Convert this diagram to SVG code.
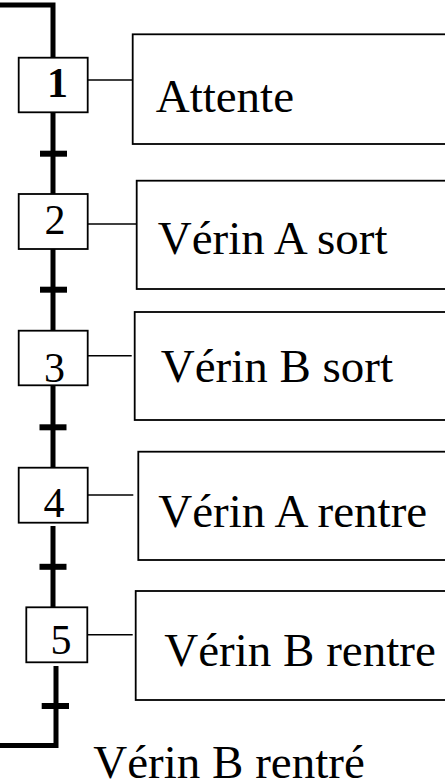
<svg xmlns="http://www.w3.org/2000/svg" width="445" height="782" viewBox="0 0 445 782">
<style>
.step{fill:#fff;stroke:#000;stroke-width:1.8}
.act{fill:#fff;stroke:#000;stroke-width:1.8}
.num{font-family:"Liberation Serif","Times New Roman",serif;font-size:42px;text-anchor:middle;fill:#000}
.lbl{font-family:"Liberation Serif","Times New Roman",serif;font-size:47px;fill:#000}
.flow{stroke:#000;stroke-width:5;fill:none}
.bar{stroke:#000;stroke-width:6}
.link{stroke:#000;stroke-width:1.5}
</style>
<rect width="445" height="782" fill="#fff"/>
<g id="connectors">
<polyline class="flow" points="0,5 53,5 53,58"/>
<line class="flow" x1="53" y1="112" x2="53" y2="194"/>
<line class="bar" x1="40" y1="153.7" x2="67" y2="153.7"/>
<line class="flow" x1="53" y1="249" x2="53" y2="331"/>
<line class="bar" x1="40" y1="289.7" x2="67" y2="289.7"/>
<line class="flow" x1="53" y1="385" x2="53" y2="468"/>
<line class="bar" x1="39.5" y1="427.3" x2="66.5" y2="427.3"/>
<line class="flow" x1="53" y1="526" x2="53" y2="607"/>
<line class="bar" x1="39.5" y1="566.8" x2="66.5" y2="566.8"/>
<polyline class="flow" points="56,666 56,745.5 0,745.5"/>
<line class="bar" x1="41.7" y1="706" x2="69" y2="706"/>
<line class="link" x1="87.7" y1="80" x2="135.7" y2="80"/>
<line class="link" x1="87.7" y1="224" x2="136.7" y2="224"/>
<line class="link" x1="81.7" y1="355.7" x2="131.7" y2="355.7"/>
<line class="link" x1="83.3" y1="495" x2="133.3" y2="495"/>
<line class="link" x1="83.3" y1="634.7" x2="132.7" y2="634.7"/>
</g>
<g id="step1"><rect class="step" x="18.7" y="57.7" width="69" height="54.6"/><text class="num" x="57.5" y="97.3" font-weight="bold">1</text></g>
<g id="step2"><rect class="step" x="18.7" y="194" width="69" height="55"/><text class="num" x="55" y="234">2</text></g>
<g id="step3"><rect class="step" x="18.7" y="330.7" width="69" height="54.6"/><text class="num" x="54.5" y="381.7">3</text></g>
<g id="step4"><rect class="step" x="18.7" y="467.7" width="69" height="55"/><text class="num" x="54" y="517.3">4</text></g>
<g id="step5"><rect class="step" x="26.3" y="607.3" width="61" height="55"/><text class="num" x="61" y="654">5</text></g>
<g id="action1"><rect class="act" x="132.7" y="34.3" width="330" height="109.7"/><text class="lbl" x="155.7" y="111.7">Attente</text></g>
<g id="action2"><rect class="act" x="136.7" y="180.7" width="330" height="108.3"/><text class="lbl" x="157.7" y="254">Vérin A sort</text></g>
<g id="action3"><rect class="act" x="134.7" y="312" width="330" height="108"/><text class="lbl" x="160.7" y="381.7">Vérin B sort</text></g>
<g id="action4"><rect class="act" x="138.3" y="451.7" width="330" height="108.3"/><text class="lbl" x="158.3" y="526.7">Vérin A rentre</text></g>
<g id="action5"><rect class="act" x="135.7" y="591" width="330" height="109"/><text class="lbl" x="164.3" y="666">Vérin B rentre</text></g>
<g id="transition-label"><text class="lbl" x="93.3" y="778">Vérin B rentré</text></g>
</svg>
